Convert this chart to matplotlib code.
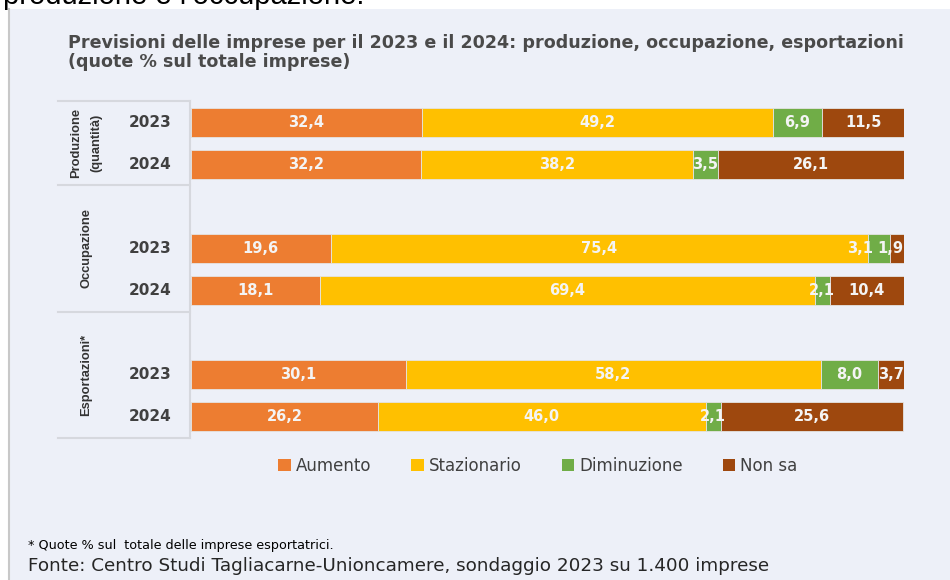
import matplotlib
matplotlib.use("Agg")
import matplotlib.pyplot as plt
from matplotlib.patches import Patch, Rectangle
from matplotlib.lines import Line2D

# ── Data ────────────────────────────────────────────────────────────────────
SERIES = ["Aumento", "Stazionario", "Diminuzione", "Non sa"]
GROUPS = ["Produzione\n(quantità)", "Occupazione", "Esportazioni*"]
YEARS = ["2023", "2024", "2023", "2024", "2023", "2024"]

aumento     = [32.4, 32.2, 19.6, 18.1, 30.1, 26.2]
stazionario = [49.2, 38.2, 75.4, 69.4, 58.2, 46.0]
diminuzione = [6.9, 3.5, 3.1, 2.1, 8.0, 2.1]
non_sa      = [11.5, 26.1, 1.9, 10.4, 3.7, 25.6]

# ── Style ───────────────────────────────────────────────────────────────────
COLORS = ["#ED7D31", "#FFC000", "#70AD47", "#9E480E"]
BG = "#EDF0F8"
GRID = "#D6D8DE"
TXT = "#404040"

ROW_POS = [0, 1, 3, 4, 6, 7]          # rows, gap before each new group
GROUP_SPANS = [(-0.5, 1.5), (1.5, 4.5), (4.5, 7.5)]
BAR_H = 0.69
LEFT = -18.65                           # left edge of the label table
NUDGE = {(2, 2): -19, (2, 3): -7}       # (row, series) -> x shift in px

W, H = 950, 580
fig = plt.figure(figsize=(W / 100, H / 100), dpi=100)
fig.patch.set_facecolor("white")

# panel background
fig.add_artist(Rectangle((9 / W, 0), 1, 1 - 9 / H, transform=fig.transFigure,
                         facecolor=BG, edgecolor="none", zorder=0))
fig.add_artist(Line2D([9 / W, 9 / W], [0, 1 - 9 / H], transform=fig.transFigure,
                      color="#C8C8C8", linewidth=1.5, zorder=1))

# cut-off text from the page above
fig.text(3 / W, 1 - 4 / H, "produzione e l\u2019occupazione.", fontsize=21,
         family="Liberation Sans", color="black", va="baseline", ha="left")

ax = fig.add_axes([58 / W, 1 - 438 / H, (904 - 58) / W, (438 - 101) / H])
ax.set_facecolor("none")
ax.set_xlim(LEFT, 100)
ax.set_ylim(7.5, -0.5)
ax.axis("off")

values = [aumento, stazionario, diminuzione, non_sa]
left = [0.0] * len(ROW_POS)
for s, (vals, col) in enumerate(zip(values, COLORS)):
    ax.barh(ROW_POS, vals, left=left, height=BAR_H, color=col,
            edgecolor="#E4E4E4", linewidth=0.6, zorder=3)
    for r, (y, v, l) in enumerate(zip(ROW_POS, vals, left)):
        dx = NUDGE.get((r, s), 0)
        ax.annotate(f"{v:.1f}".replace(".", ","), (l + v / 2, y),
                    xytext=(dx * 0.72, 0), textcoords="offset points",
                    ha="center", va="center", fontsize=10.5, fontweight="bold",
                    family="DejaVu Sans", color="#F4F4F4", zorder=4)
    left = [a + b for a, b in zip(left, vals)]

# label table
line_kw = dict(color=GRID, linewidth=1.5, clip_on=False, zorder=2)
ax.plot([-0.15, -0.15], [-0.5, 7.5], **line_kw)
for y in [-0.5, 1.5, 4.5, 7.5]:
    ax.plot([LEFT, -0.15], [y, y], **line_kw)

for y, yr in zip(ROW_POS, YEARS):
    ax.text(-5.75, y, yr, ha="center", va="center", fontsize=11,
            fontweight="bold", family="DejaVu Sans", color=TXT)

for (y0, y1), g in zip(GROUP_SPANS, GROUPS):
    ax.text(-14.7, (y0 + y1) / 2, g, rotation=90, ha="center", va="center",
            fontsize=9.3, fontweight="bold", family="Liberation Sans",
            color="#333333", linespacing=1.9, multialignment="center")

# title
title_kw = dict(fontsize=12.6, family="DejaVu Sans", fontweight="bold",
                color="#4A4A4A", va="center", ha="left")
fig.text(68 / W, 1 - 43 / H,
         "Previsioni delle imprese per il 2023 e il 2024: produzione, occupazione, esportazioni",
         **title_kw)
fig.text(68 / W, 1 - 62 / H, "(quote % sul totale imprese)", **title_kw)

# legend
handles = [Patch(facecolor=c, edgecolor="none") for c in COLORS]
fig.legend(handles, SERIES, loc="center", bbox_to_anchor=(538 / W, 1 - 466 / H),
           ncol=4, frameon=False, handlelength=0.75, handleheight=0.75,
           handletextpad=0.3, columnspacing=2.4, labelcolor=TXT,
           prop={"family": "DejaVu Sans", "size": 12})

# notes
fig.text(28 / W, 1 - 545 / H, "* Quote % sul  totale delle imprese esportatrici.",
         fontsize=9.2, family="Liberation Sans Narrow", color="black",
         va="center", ha="left")
fig.text(28 / W, 1 - 566 / H,
         "Fonte: Centro Studi Tagliacarne-Unioncamere, sondaggio 2023 su 1.400 imprese",
         fontsize=13.2, family="DejaVu Sans", color="#262626", va="center", ha="left")

fig.savefig("out.png", dpi=100, facecolor=fig.get_facecolor())
